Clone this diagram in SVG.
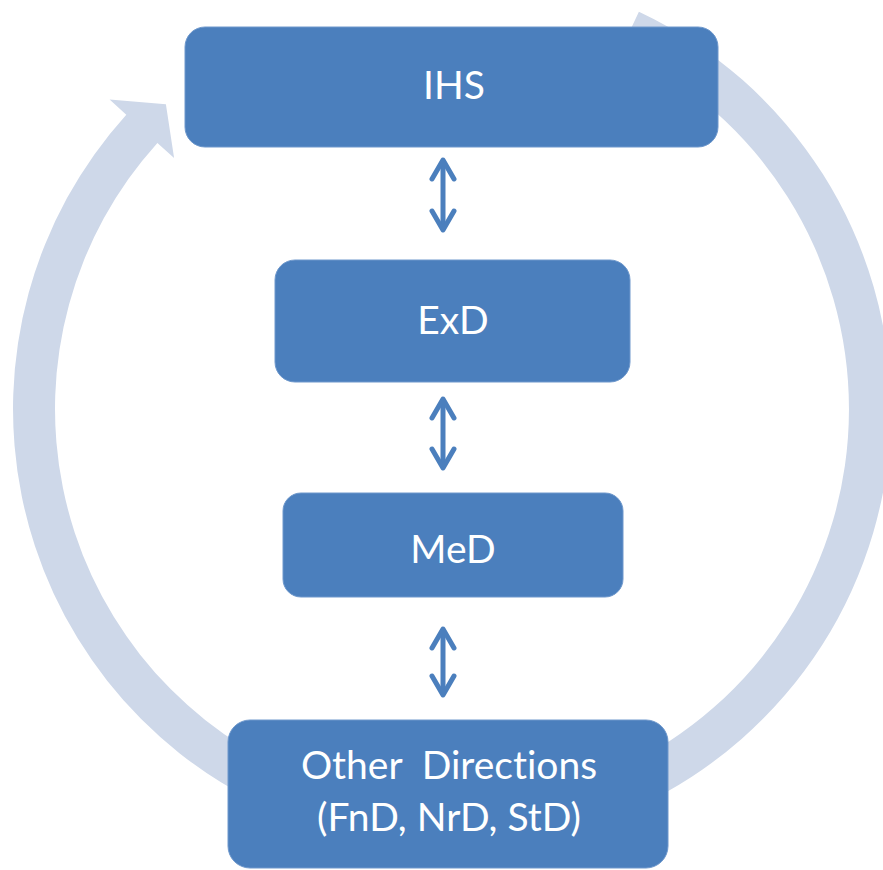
<svg xmlns="http://www.w3.org/2000/svg" width="883" height="870" viewBox="0 0 883 870">
  <style>
    .ring { fill: #CED8E9; }
    .box { fill: #4B7FBD; stroke: #6E98CC; stroke-width: 1; }
    .lbl { font-family: Lato, "Open Sans", "Liberation Sans", sans-serif; font-size: 39px; fill: #FFFFFF; text-anchor: middle; font-variant-ligatures: none; font-feature-settings: "liga" 0, "dlig" 0; }
    .conn { stroke: #4B7FBD; stroke-width: 5; fill: none; }
  </style>
  <defs>
    <marker id="chev" viewBox="0 0 30 30" refX="22" refY="15" markerWidth="30" markerHeight="30" markerUnits="userSpaceOnUse" orient="auto-start-reverse">
      <path d="M 3 4 L 22 15 L 3 26" fill="none" stroke="#4B7FBD" stroke-width="5" stroke-linecap="round" stroke-linejoin="round"/>
    </marker>
  </defs>
  <rect width="883" height="870" fill="#FFFFFF"/>

  <g id="cycle">
    <path class="ring" d="M 638.9 11.8 A 439 439 0 0 1 637.5 806.9 L 619.8 768.8 A 397 397 0 0 0 621 49.8 Z"/>
    <path class="ring" d="M 266.5 806.9 A 439 439 0 0 1 126.3 114.7 L 109.6 99.6 L 165.9 104.3 L 174.1 157.9 L 157.4 142.9 A 397 397 0 0 0 284.2 768.8 Z"/>
  </g>

  <g id="connectors">
    <line class="conn" x1="443" y1="160" x2="443" y2="230" marker-start="url(#chev)" marker-end="url(#chev)"/>
    <line class="conn" x1="443" y1="399" x2="443" y2="468" marker-start="url(#chev)" marker-end="url(#chev)"/>
    <line class="conn" x1="443" y1="629" x2="443" y2="695" marker-start="url(#chev)" marker-end="url(#chev)"/>
  </g>

  <g id="ihs">
    <rect class="box" x="185" y="27" width="533" height="120" rx="20" ry="20"/>
    <text class="lbl" x="454" y="99">IHS</text>
  </g>
  <g id="exd">
    <rect class="box" x="275" y="260" width="355" height="122" rx="20" ry="20"/>
    <text class="lbl" x="453" y="334">ExD</text>
  </g>
  <g id="med">
    <rect class="box" x="283" y="493" width="340" height="104" rx="18" ry="18"/>
    <text class="lbl" x="453" y="563">MeD</text>
  </g>
  <g id="other">
    <rect class="box" x="228" y="720" width="440" height="148" rx="22" ry="22"/>
    <text class="lbl" x="449" y="779" xml:space="preserve">Other  Directions</text>
    <text class="lbl" x="449" y="831">(FnD, NrD, StD)</text>
  </g>
</svg>
